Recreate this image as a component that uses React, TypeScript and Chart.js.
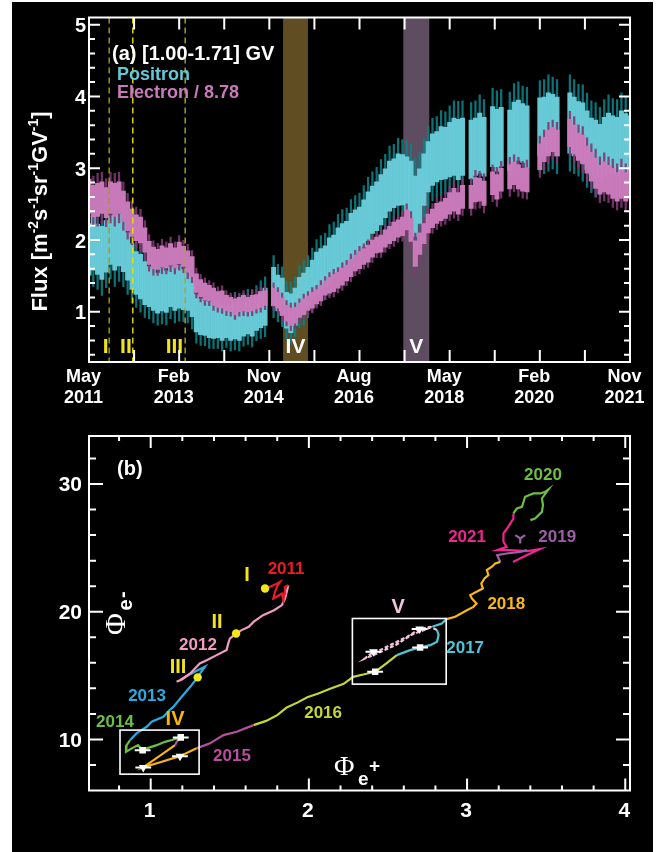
import { useEffect, useRef } from "react";
import { Chart, registerables } from "chart.js";

Chart.register(...registerables);

const SANS = '"Liberation Sans", Arial, Helvetica, sans-serif';
const SERIF = '"Liberation Serif", "Times New Roman", serif';

// ---------------- Panel (a): monthly fluxes, month 0 = May 2011 ----------------
const positronFlux: (number | null)[] = [
  1.87, 1.96, 1.87, 1.82, 1.91, 2.0, 1.96, 2.0, 1.91, 1.77,
  1.63, 1.54, 1.49, 1.4, 1.35, 1.31, 1.26, 1.31, 1.28, 1.35,
  1.31, 1.35, 1.31, 1.31, 1.21, 0.98, 0.93, 0.91, 0.89, 0.87,
  0.89, 0.84, 0.87, 0.84, 0.87, 0.84, 0.89, 0.93, 0.91, 0.98,
  1.03, 1.07, null, 1.35, 1.26, 1.21, 1.02, 0.98, 1.07, 1.21,
  1.26, 1.35, 1.44, 1.54, 1.58, 1.63, 1.72, 1.77, 1.86, 1.91,
  1.95, 2.05, 2.09, 2.14, 2.23, 2.33, 2.42, 2.47, 2.56, 2.65,
  2.75, 2.79, 2.84, 2.84, 2.79, 2.7, 2.47, 2.61, 2.84, 3.02,
  3.12, 3.16, 3.21, 3.21, 3.26, 3.3, 3.26, 3.3, null, 3.26,
  3.3, 3.35, 3.3, null, 3.44, 3.39, 3.44, null, 3.39, 3.49,
  3.53, 3.49, 3.44, null, null, 3.58, 3.58, 3.63, 3.63, 3.58,
  null, null, 3.63, 3.58, 3.53, 3.49, 3.39, 3.3, 3.26, 3.21,
  3.3, 3.35, 3.33, 3.3, 3.38, 3.35, 3.33,
];

const positronSpread: (number | null)[] = [
  0.36, 0.38, 0.35, 0.37, 0.36, 0.34, 0.38, 0.36, 0.35, 0.33,
  0.32, 0.3, 0.31, 0.3, 0.28, 0.29, 0.28, 0.3, 0.29, 0.28,
  0.29, 0.3, 0.28, 0.29, 0.28, 0.26, 0.25, 0.24, 0.25, 0.24,
  0.25, 0.24, 0.23, 0.24, 0.25, 0.24, 0.23, 0.24, 0.25, 0.24,
  0.25, 0.26, null, 0.27, 0.25, 0.26, 0.25, 0.27, 0.26, 0.27,
  0.28, 0.27, 0.28, 0.29, 0.3, 0.29, 0.31, 0.3, 0.31, 0.32,
  0.31, 0.32, 0.33, 0.32, 0.33, 0.34, 0.33, 0.34, 0.35, 0.34,
  0.35, 0.34, 0.36, 0.35, 0.37, 0.4, 0.42, 0.38, 0.36, 0.35,
  0.36, 0.35, 0.37, 0.36, 0.38, 0.4, 0.42, 0.4, null, 0.41,
  0.4, 0.42, 0.41, null, 0.42, 0.43, 0.41, null, 0.42, 0.43,
  0.42, 0.41, 0.43, null, null, 0.4, 0.41, 0.42, 0.4, 0.41,
  null, null, 0.42, 0.41, 0.4, 0.42, 0.41, 0.4, 0.41, 0.4,
  0.41, 0.42, 0.4, 0.41, 0.42, 0.41, 0.4,
];

const electronFlux: (number | null)[] = [
  2.61, 2.54, 2.56, 2.59, 2.52, 2.59, 2.56, 2.59, 2.47, 2.33,
  2.24, 2.17, 2.14, 2.0, 1.82, 1.75, 1.73, 1.77, 1.75, 1.8,
  1.75, 1.82, 1.77, 1.7, 1.63, 1.4, 1.33, 1.28, 1.26, 1.21,
  1.17, 1.17, 1.12, 1.1, 1.07, 1.1, 1.12, 1.1, 1.12, 1.14,
  1.17, 1.19, null, 1.21, 1.16, 1.07, 0.98, 0.93, 0.95, 1.02,
  1.07, 1.12, 1.16, 1.21, 1.26, 1.33, 1.37, 1.4, 1.44, 1.49,
  1.54, 1.61, 1.68, 1.72, 1.77, 1.81, 1.88, 1.93, 1.95, 2.02,
  2.07, 2.12, 2.16, 2.19, 2.28, 2.14, 1.81, 1.95, 2.09, 2.23,
  2.3, 2.37, 2.4, 2.44, 2.51, 2.56, 2.51, 2.6, null, 2.6,
  2.7, 2.7, 2.65, null, 2.79, 2.74, 2.84, null, 2.88, 2.93,
  2.88, 2.84, 2.84, null, null, 3.16, 3.26, 3.35, 3.4, 3.35,
  null, null, 3.49, 3.4, 3.3, 3.26, 3.12, 3.02, 2.93, 2.84,
  2.88, 2.84, 2.79, 2.74, 2.79, 2.74, 2.79,
];

const electronSpread: (number | null)[] = [
  0.24, 0.22, 0.23, 0.22, 0.21, 0.22, 0.23, 0.22, 0.21, 0.2,
  0.19, 0.18, 0.18, 0.17, 0.16, 0.15, 0.14, 0.15, 0.14, 0.15,
  0.14, 0.15, 0.14, 0.15, 0.14, 0.13, 0.12, 0.12, 0.11, 0.12,
  0.11, 0.12, 0.11, 0.1, 0.11, 0.1, 0.11, 0.1, 0.11, 0.1,
  0.11, 0.1, null, 0.12, 0.11, 0.12, 0.11, 0.12, 0.11, 0.1,
  0.11, 0.1, 0.11, 0.1, 0.11, 0.1, 0.11, 0.12, 0.11, 0.12,
  0.11, 0.12, 0.11, 0.12, 0.11, 0.12, 0.12, 0.11, 0.12, 0.12,
  0.12, 0.13, 0.12, 0.13, 0.14, 0.16, 0.18, 0.15, 0.14, 0.13,
  0.13, 0.14, 0.13, 0.14, 0.15, 0.16, 0.15, 0.16, null, 0.16,
  0.17, 0.16, 0.17, null, 0.16, 0.17, 0.16, null, 0.17, 0.16,
  0.17, 0.16, 0.17, null, null, 0.18, 0.17, 0.18, 0.17, 0.18,
  null, null, 0.19, 0.2, 0.19, 0.2, 0.19, 0.2, 0.21, 0.2,
  0.21, 0.2, 0.21, 0.2, 0.21, 0.2, 0.21,
];

const timeTickMonths = [0, 10.5, 21, 31.5, 42, 52.5, 63, 73.5, 84, 94.5, 105, 115.5, 126];
const timeLabelMonths = [0, 21, 42, 63, 84, 105, 126];
const timeLabelLines = [
  ["May", "2011"],
  ["Feb", "2013"],
  ["Nov", "2014"],
  ["Aug", "2016"],
  ["May", "2018"],
  ["Feb", "2020"],
  ["Nov", "2021"],
];
const fluxTickValues = [1, 2, 3, 4, 5];

const eventMonths = [4.7, 10.2, 22.4];
const eventNames = ["I", "II", "III"];
const eventLabelMonths = [3.9, 8.6, 19.9];
const periodNames = ["IV", "V"];
const periodStartMonths = [45.2, 73.2];
const periodEndMonths = [51.0, 79.25];

// ---------------- Panel (b): Φe- against Φe+ ----------------
const track2011 = [[1.723, 21.82], [1.755, 21.95], [1.797, 22.2], [1.818, 22.34], [1.8, 22.0], [1.786, 21.56], [1.775, 21.04], [1.797, 21.17], [1.829, 21.43], [1.839, 20.9], [1.845, 21.4], [1.849, 21.95], [1.87, 22.08]];
const track2012 = [[1.87, 22.08], [1.85, 21.04], [1.83, 20.52], [1.78, 20.12], [1.71, 19.73], [1.65, 19.2], [1.62, 18.82], [1.575, 18.56], [1.54, 18.3], [1.5, 17.9], [1.49, 17.5], [1.48, 17.0], [1.417, 16.6], [1.354, 16.2], [1.31, 15.95], [1.25, 15.17], [1.185, 14.64], [1.164, 14.51], [1.2, 14.7], [1.238, 15.03]];
const track2013 = [[1.238, 15.03], [1.3, 15.43], [1.343, 15.69], [1.32, 15.3], [1.297, 14.86], [1.25, 14.12], [1.196, 13.34], [1.143, 12.55], [1.12, 12.3], [1.08, 11.77], [1.006, 11.38], [0.975, 10.99], [0.91, 10.47], [0.87, 9.95]];
const track2014 = [[0.87, 9.95], [0.848, 9.55], [0.844, 9.03], [0.88, 9.3], [0.92, 9.55], [0.949, 9.16], [0.975, 9.3], [1.038, 9.55], [1.09, 9.81], [1.133, 9.95], [1.19, 10.16]];
const track2015early = [[1.19, 10.16], [1.164, 9.81], [1.154, 9.55]];
const trackIV = [[1.154, 9.55], [1.05, 8.65], [0.953, 7.81], [1.07, 8.25], [1.185, 8.69], [1.29, 9.3]];
const track2015 = [[1.29, 9.3], [1.375, 9.69], [1.46, 10.34], [1.544, 10.6], [1.65, 11.12]];
const track2016 = [[1.65, 11.12], [1.73, 11.45], [1.8, 11.9], [1.86, 12.5], [1.93, 12.9], [1.99, 13.3], [2.06, 13.6], [2.13, 13.95], [2.22, 14.35], [2.28, 14.9], [2.35, 15.1], [2.42, 15.3], [2.49, 15.95], [2.556, 16.6]];
const track2017 = [[2.556, 16.6], [2.64, 16.99], [2.703, 17.2], [2.767, 17.38], [2.81, 17.64], [2.82, 18.17], [2.81, 18.56]];
const trackV = [[2.81, 18.56], [2.767, 18.82], [2.7, 18.64], [2.62, 18.03], [2.535, 17.52], [2.45, 16.99], [2.408, 16.86], [2.355, 16.34], [2.43, 16.73], [2.55, 17.4], [2.65, 18.2], [2.78, 18.82]];
const track2017late = [[2.78, 18.82], [2.84, 19.08], [2.87, 19.42]];
const track2018 = [[2.87, 19.42], [2.925, 19.6], [2.999, 20.12], [3.04, 20.38], [3.06, 20.65], [3.03, 21.04], [3.02, 21.3], [3.06, 21.56], [3.1, 21.82], [3.09, 22.2], [3.11, 22.6], [3.135, 22.87], [3.125, 23.26], [3.157, 23.52], [3.178, 23.78], [3.21, 23.9]];
const track2019 = [[3.21, 23.9], [3.19, 24.43], [3.25, 24.56], [3.336, 24.69], [3.38, 24.82]];
const track2019late = [[3.305, 26.0], [3.336, 25.74], [3.367, 26.0], [3.336, 25.74], [3.336, 25.35]];
const track2020 = [[3.4, 27.17], [3.43, 27.3], [3.473, 27.82], [3.48, 28.35], [3.473, 28.87], [3.515, 29.58], [3.494, 29.39], [3.462, 29.26], [3.42, 29.26], [3.367, 29.0], [3.347, 28.21], [3.315, 28.09], [3.293, 27.7]];
const track2021 = [[3.293, 27.7], [3.293, 27.3], [3.26, 26.65], [3.23, 26.13], [3.23, 25.48], [3.25, 25.08], [3.19, 24.82], [3.27, 24.82], [3.38, 24.74], [3.46, 24.9], [3.4, 24.56], [3.357, 24.3], [3.29, 23.9]];

const eventDots = [[1.723, 21.82], [1.54, 18.3], [1.297, 14.86]];
const squareMarkers = [[0.949, 9.16], [1.19, 10.16], [2.419, 15.3], [2.703, 17.2]];
const triangleMarkers = [[0.953, 7.81], [1.185, 8.69], [2.408, 16.86], [2.7, 18.64]];
const markerErr = 0.05;
const periodBoxes = [[0.806, 1.306, 7.28, 10.73], [2.275, 2.868, 14.33, 19.47]];

const phiPlusMajor = [1, 2, 3, 4];
const phiMinusMajor = [10, 20, 30];

// year / period annotations, anchored in data coordinates
const trackLabels: [string, number, number, string, number][] = [
  ["2011", 1.856, 23.35, "#ed1c24", 17],
  ["2012", 1.299, 17.38, "#f49ac2", 17],
  ["2013", 0.977, 13.39, "#29abe2", 17],
  ["2014", 0.774, 11.35, "#6cbe45", 17],
  ["2015", 1.514, 8.64, "#b64f9f", 17],
  ["2016", 2.09, 12.06, "#c6d731", 17],
  ["2017", 2.988, 17.15, "#4ec5d7", 17],
  ["2018", 3.248, 20.6, "#fab814", 17],
  ["2019", 3.57, 25.84, "#9c5fa7", 17],
  ["2020", 3.48, 30.7, "#6cbe45", 17],
  ["2021", 3.0, 25.84, "#ec268f", 17],
  ["I", 1.609, 22.87, "#f2e41a", 20],
  ["II", 1.419, 19.19, "#f2e41a", 20],
  ["III", 1.173, 15.66, "#f2e41a", 20],
  ["IV", 1.154, 11.55, "#f6b60e", 20],
  ["V", 2.564, 20.36, "#efc6de", 20],
];

// ---------------- styles ----------------
const POS_BAND = "rgba(108, 207, 220, 0.95)";
const POS_ERR = "rgba(12, 128, 132, 0.9)";
const ELE_BAND = "rgba(204, 124, 188, 0.96)";
const ELE_ERR = "rgba(128, 56, 116, 0.9)";
const PERIOD_FILL = ["#604d21", "#5e4d61"];
const EVENT_LINE = ["#a39c1c", "#e6e200", "#aea624"];
const WHISKER = 1.6;

type Pt = number[];
const toXY = (arr: Pt[]) => arr.map(([x, y]) => ({ x, y }));

function rangeData(values: (number | null)[], spreads: (number | null)[], k: number) {
  const out: { x: number; y: [number, number] }[] = [];
  values.forEach((v, i) => {
    const s = spreads[i];
    if (v == null || s == null) return;
    out.push({ x: i, y: [v - s * k, v + s * k] });
  });
  return out;
}

function drawFrame(chart: any, xt: { v: number; len: number }[], yt: { v: number; len: number }[]) {
  const { ctx, chartArea: a, scales } = chart;
  const x = scales.x;
  const y = scales.y;
  ctx.save();
  ctx.strokeStyle = "#ffffff";
  ctx.lineWidth = 2;
  ctx.beginPath();
  for (const t of xt) {
    const px = x.getPixelForValue(t.v);
    ctx.moveTo(px, a.bottom);
    ctx.lineTo(px, a.bottom - t.len);
    ctx.moveTo(px, a.top);
    ctx.lineTo(px, a.top + t.len);
  }
  for (const t of yt) {
    const py = y.getPixelForValue(t.v);
    ctx.moveTo(a.left, py);
    ctx.lineTo(a.left + t.len, py);
    ctx.moveTo(a.right, py);
    ctx.lineTo(a.right - t.len, py);
  }
  ctx.stroke();
  ctx.strokeRect(a.left, a.top, a.right - a.left, a.bottom - a.top);
  ctx.restore();
}

type Run = { t: string; font: string; dy: number };
function runsWidth(ctx: CanvasRenderingContext2D, runs: Run[]) {
  let w = 0;
  for (const r of runs) {
    ctx.font = r.font;
    w += ctx.measureText(r.t).width;
  }
  return w;
}
function drawRuns(ctx: CanvasRenderingContext2D, runs: Run[], x: number, y: number) {
  let cx = x;
  for (const r of runs) {
    ctx.font = r.font;
    ctx.fillText(r.t, cx, y + r.dy);
    cx += ctx.measureText(r.t).width;
  }
}

const panelAPlugin = {
  id: "panelA",
  beforeDatasetsDraw(chart: any) {
    const { ctx, chartArea: a, scales } = chart;
    ctx.save();
    periodStartMonths.forEach((s, i) => {
      const x0 = scales.x.getPixelForValue(s);
      const x1 = scales.x.getPixelForValue(periodEndMonths[i]);
      ctx.fillStyle = PERIOD_FILL[i];
      ctx.fillRect(x0, a.top, x1 - x0, a.bottom - a.top);
    });
    ctx.restore();
  },
  afterDatasetsDraw(chart: any) {
    const { ctx, chartArea: a, scales } = chart;
    ctx.save();
    ctx.lineWidth = 1.4;
    ctx.setLineDash([6, 4]);
    eventMonths.forEach((m, i) => {
      const px = scales.x.getPixelForValue(m);
      ctx.strokeStyle = EVENT_LINE[i];
      ctx.beginPath();
      ctx.moveTo(px, a.top);
      ctx.lineTo(px, a.bottom);
      ctx.stroke();
    });
    ctx.setLineDash([]);
    ctx.textAlign = "center";
    ctx.textBaseline = "alphabetic";
    ctx.font = `bold 21px ${SANS}`;
    ctx.fillStyle = "#f2e41a";
    eventNames.forEach((n, i) => {
      ctx.fillText(n, scales.x.getPixelForValue(eventLabelMonths[i]), a.bottom - 9);
    });
    ctx.fillStyle = "#ffffff";
    periodNames.forEach((n, i) => {
      const mid = (periodStartMonths[i] + periodEndMonths[i]) / 2;
      ctx.fillText(n, scales.x.getPixelForValue(mid), a.bottom - 9);
    });
    ctx.restore();
  },
  afterDraw(chart: any) {
    const { ctx, chartArea: a, scales } = chart;
    const xt = timeTickMonths.map((v) => ({ v, len: 12 }));
    const yt: { v: number; len: number }[] = [];
    for (let k = 2; k <= 25; k++) {
      const v = k / 5;
      yt.push({ v, len: k % 5 === 0 ? 11 : 6 });
    }
    drawFrame(chart, xt, yt);

    ctx.save();
    ctx.fillStyle = "#ffffff";
    // flux tick labels
    ctx.font = `bold 20px ${SANS}`;
    ctx.textAlign = "right";
    ctx.textBaseline = "middle";
    fluxTickValues.forEach((v) => {
      ctx.fillText(String(v), a.left - 3, scales.y.getPixelForValue(v) + 2);
    });
    // date tick labels
    ctx.font = `bold 18px ${SANS}`;
    ctx.textAlign = "center";
    timeLabelMonths.forEach((m, i) => {
      const px = scales.x.getPixelForValue(m) - 5.5;
      ctx.fillText(timeLabelLines[i][0], px, a.bottom + 15);
      ctx.fillText(timeLabelLines[i][1], px, a.bottom + 36);
    });

    // legend block
    ctx.textAlign = "left";
    ctx.textBaseline = "alphabetic";
    ctx.font = `bold 20px ${SANS}`;
    ctx.fillText("(a) [1.00-1.71] GV", a.left + 23, a.top + 42);
    ctx.font = `bold 18px ${SANS}`;
    ctx.fillStyle = "#62c9d8";
    ctx.fillText("Positron", a.left + 28, a.top + 62.5);
    ctx.fillStyle = "#c97ab9";
    ctx.fillText("Electron / 8.78", a.left + 28, a.top + 80);

    // rotated flux title
    const main = `bold 22px ${SANS}`;
    const sup = `bold 14px ${SANS}`;
    const runs: Run[] = [
      { t: "Flux [m", font: main, dy: 0 },
      { t: "-2", font: sup, dy: -9 },
      { t: "s", font: main, dy: 0 },
      { t: "-1", font: sup, dy: -9 },
      { t: "sr", font: main, dy: 0 },
      { t: "-1", font: sup, dy: -9 },
      { t: "GV", font: main, dy: 0 },
      { t: "-1", font: sup, dy: -9 },
      { t: "]", font: main, dy: 0 },
    ];
    ctx.fillStyle = "#ffffff";
    ctx.translate(47, a.top + 194);
    ctx.rotate(-Math.PI / 2);
    const w = runsWidth(ctx, runs);
    drawRuns(ctx, runs, -w / 2, 0);
    ctx.restore();
  },
};

const panelBPlugin = {
  id: "panelB",
  afterDatasetsDraw(chart: any) {
    const { ctx, scales } = chart;
    const x = scales.x;
    const y = scales.y;
    ctx.save();
    ctx.strokeStyle = "#ffffff";
    ctx.lineWidth = 1.6;
    periodBoxes.forEach(([x0, x1, y0, y1]) => {
      const px0 = x.getPixelForValue(x0);
      const px1 = x.getPixelForValue(x1);
      const py0 = y.getPixelForValue(y0);
      const py1 = y.getPixelForValue(y1);
      ctx.strokeRect(px0, py1, px1 - px0, py0 - py1);
    });
    ctx.lineWidth = 2;
    ctx.beginPath();
    [...squareMarkers, ...triangleMarkers].forEach(([mx, my]) => {
      const py = y.getPixelForValue(my);
      ctx.moveTo(x.getPixelForValue(mx - markerErr), py);
      ctx.lineTo(x.getPixelForValue(mx + markerErr), py);
    });
    ctx.stroke();

    ctx.textAlign = "center";
    ctx.textBaseline = "middle";
    trackLabels.forEach(([t, lx, ly, color, size]) => {
      ctx.font = `bold ${size}px ${SANS}`;
      ctx.fillStyle = color;
      ctx.fillText(t, x.getPixelForValue(lx), y.getPixelForValue(ly));
    });
    ctx.restore();
  },
  afterDraw(chart: any) {
    const { ctx, chartArea: a, scales } = chart;
    const xt: { v: number; len: number }[] = [];
    for (let k = 4; k <= 20; k++) xt.push({ v: k / 5, len: k % 5 === 0 ? 12 : 5 });
    const yt: { v: number; len: number }[] = [];
    for (let k = 4; k <= 16; k++) yt.push({ v: k * 2, len: k % 5 === 0 ? 14 : 7 });
    drawFrame(chart, xt, yt);

    ctx.save();
    ctx.fillStyle = "#ffffff";
    ctx.font = `bold 21px ${SANS}`;
    ctx.textAlign = "center";
    ctx.textBaseline = "middle";
    phiPlusMajor.forEach((v) => {
      ctx.fillText(String(v), scales.x.getPixelForValue(v) - 1, a.bottom + 20.5);
    });
    ctx.textAlign = "right";
    phiMinusMajor.forEach((v) => {
      ctx.fillText(String(v), a.left - 7, scales.y.getPixelForValue(v) + 1.5);
    });

    ctx.textAlign = "left";
    ctx.textBaseline = "alphabetic";
    ctx.font = `bold 20px ${SANS}`;
    ctx.fillText("(b)", a.left + 28, a.top + 39);

    // Φe+ (horizontal axis)
    ctx.font = `28px ${SERIF}`;
    ctx.fillText("\u03A6", 334, 355);
    ctx.font = `bold 19px ${SANS}`;
    ctx.fillText("e", 358, 365);
    ctx.fillText("+", 369, 352);

    // Φe- (vertical axis)
    ctx.translate(125, 215);
    ctx.rotate(-Math.PI / 2);
    ctx.font = `30px ${SERIF}`;
    ctx.fillText("\u03A6", 0, 0);
    ctx.font = `bold 20px ${SANS}`;
    ctx.fillText("e", 24.5, 7);
    ctx.fillText("-", 37, 4);
    ctx.restore();
  },
};

const trackStyles: [Pt[], string, number[]][] = [
  [track2011, "#ed1c24", []],
  [track2012, "#f49ac2", []],
  [track2013, "#29abe2", []],
  [track2014, "#6cbe45", []],
  [track2015early, "#b64f9f", []],
  [trackIV, "#f8b218", []],
  [track2015, "#b64f9f", []],
  [track2016, "#c6d731", []],
  [track2017, "#4ec5d7", []],
  [trackV, "#efc3dc", [4, 2]],
  [track2017late, "#4ec5d7", []],
  [track2018, "#fab814", []],
  [track2019, "#9c5fa7", []],
  [track2019late, "#9c5fa7", []],
  [track2020, "#6cbe45", []],
  [track2021, "#ec268f", []],
];

export default function App() {
  const topRef = useRef<HTMLCanvasElement>(null);
  const botRef = useRef<HTMLCanvasElement>(null);

  useEffect(() => {
    const barCommon = { type: "bar" as const, grouped: false, borderWidth: 0 };
    const fluxChart = new Chart(topRef.current!, {
      type: "bar",
      data: {
        datasets: [
          { ...barCommon, label: "Electron / 8.78", data: rangeData(electronFlux, electronSpread, 1), backgroundColor: ELE_BAND, barThickness: 4.4, order: 0 } as any,
          { ...barCommon, label: "Electron err", data: rangeData(electronFlux, electronSpread, WHISKER), backgroundColor: ELE_ERR, barThickness: 1.6, order: 1 } as any,
          { ...barCommon, label: "Positron", data: rangeData(positronFlux, positronSpread, 1), backgroundColor: POS_BAND, barThickness: 4.4, order: 2 } as any,
          { ...barCommon, label: "Positron err", data: rangeData(positronFlux, positronSpread, WHISKER), backgroundColor: POS_ERR, barThickness: 1.6, order: 3 } as any,
        ],
      },
      options: {
        animation: false,
        responsive: false,
        maintainAspectRatio: false,
        devicePixelRatio: 1,
        events: [],
        layout: { padding: { left: 89, right: 32, top: 17.5, bottom: 58 } },
        plugins: { legend: { display: false }, tooltip: { enabled: false } },
        scales: {
          x: { type: "linear", min: 0, max: 126, display: false, offset: false },
          y: { type: "linear", min: 0.3, max: 5.1, display: false },
        },
      },
      plugins: [panelAPlugin],
    });

    const trackSets = trackStyles.map(([pts, color, dash], i) => ({
      type: "scatter" as const,
      label: `track${i}`,
      data: toXY(pts),
      showLine: true,
      borderColor: color,
      backgroundColor: color,
      borderWidth: 2.2,
      borderDash: dash,
      pointRadius: 0,
      order: 10,
    }));

    const phiChart = new Chart(botRef.current!, {
      type: "scatter",
      data: {
        datasets: [
          { label: "events", data: toXY(eventDots), pointStyle: "circle", pointRadius: 4.2, backgroundColor: "#f5e61a", borderWidth: 0, order: 0 } as any,
          { label: "squares", data: toXY(squareMarkers), pointStyle: "rect", pointRadius: 4.6, backgroundColor: "#ffffff", borderWidth: 0, order: 1 } as any,
          { label: "triangles", data: toXY(triangleMarkers), pointStyle: "triangle", rotation: 180, pointRadius: 5, backgroundColor: "#ffffff", borderWidth: 0, order: 2 } as any,
          ...trackSets,
        ],
      },
      options: {
        animation: false,
        responsive: false,
        maintainAspectRatio: false,
        devicePixelRatio: 1,
        events: [],
        layout: { padding: { left: 89, right: 32, top: 16, bottom: 61.5 } },
        plugins: { legend: { display: false }, tooltip: { enabled: false } },
        scales: {
          x: { type: "linear", min: 0.61, max: 4.03, display: false },
          y: { type: "linear", min: 6, max: 33.76, display: false },
        },
      },
      plugins: [panelBPlugin],
    });

    return () => {
      fluxChart.destroy();
      phiChart.destroy();
    };
  }, []);

  return (
    <div style={{ position: "absolute", left: 0, top: 0, width: 662, height: 852, background: "#ffffff", overflow: "hidden" }}>
      <div style={{ position: "absolute", left: 12, top: 2, width: 641, height: 850, background: "#000000" }} />
      <canvas ref={topRef} width={662} height={420} style={{ position: "absolute", left: 0, top: 0 }} />
      <canvas ref={botRef} width={662} height={432} style={{ position: "absolute", left: 0, top: 420 }} />
    </div>
  );
}
